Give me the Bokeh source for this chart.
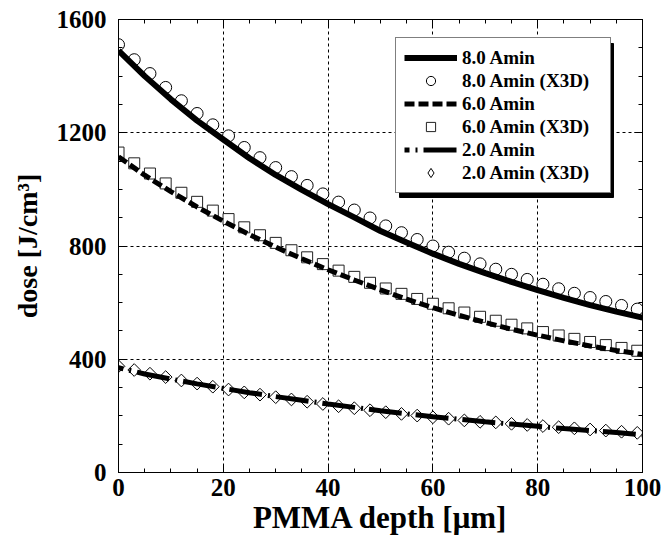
from bokeh.plotting import figure
from bokeh.models import Range1d, LinearAxis, Legend, LegendItem, SingleIntervalTicker, FixedTicker
from bokeh.embed import file_html
from bokeh.resources import INLINE
import math

# ---------------- data ----------------
x_line = [0, 5, 10, 15, 20, 25, 30, 35, 40, 45, 50, 55, 60, 65, 70, 75, 80, 85, 90, 95, 100]
line_8 = [1490, 1400, 1318, 1243, 1176, 1110, 1051, 998, 948, 901, 853, 812, 773, 737, 704, 673, 644, 617, 591, 568, 547]
line_6 = [1115, 1050, 992, 938, 888, 840, 796, 755, 716, 680, 645, 612, 582, 555, 530, 506, 485, 465, 447, 431, 417]
line_2 = [370, 348, 330, 313, 297, 282, 268, 255, 242, 230, 218, 207, 197, 188, 179, 171, 163, 155, 148, 141, 133]

x_pts = [0, 3, 6, 9, 12, 15, 18, 21, 24, 27, 30, 33, 36, 39, 42, 45, 48, 51, 54, 57, 60,
         63, 66, 69, 72, 75, 78, 81, 84, 87, 90, 93, 96, 99]
x3d_8 = [1511, 1458, 1409, 1360, 1313, 1268, 1228, 1189, 1148, 1112, 1077, 1045, 1014, 984, 955, 927, 899, 871, 847, 823, 800,
         778, 757, 737, 718, 700, 682, 665, 649, 633, 618, 604, 590, 577]
x3d_6 = [1130, 1092, 1056, 1021, 988, 956, 925, 895, 866, 838, 811, 785, 760, 736, 713, 691, 670, 650, 631, 613, 596,
         580, 565, 550, 536, 522, 509, 496, 484, 472, 461, 450, 440, 430]
x3d_2 = [375, 362, 349, 337, 325, 314, 303, 293, 283, 275, 266, 258, 250, 242, 234, 227, 220, 213, 207, 201, 195,
         190, 184, 179, 177, 172, 168, 164, 160, 156, 152, 148, 144, 140]

labels = ["8.0 Amin", "8.0 Amin (X3D)", "6.0 Amin", "6.0 Amin (X3D)", "2.0 Amin", "2.0 Amin (X3D)"]

FONT = "Liberation Serif"

# ---------------- layout constants ----------------
W, H = 664, 540
FL, FT, FR, FB = 118, 19, 642, 472   # frame in canvas px
X0, X1, Y0, Y1 = 0, 100, 0, 1600
XMAJ, YMAJ = 20, 400

p = figure(width=W, height=H, output_backend="svg", toolbar_location=None,
           x_range=Range1d(X0, X1), y_range=Range1d(Y0, Y1),
           min_border_left=FL, min_border_right=W - FR,
           min_border_top=FT, min_border_bottom=H - FB)
p.background_fill_color = "white"
p.border_fill_color = "white"
p.outline_line_color = "black"
p.outline_line_width = 1

def style_axis(ax):
    ax.major_tick_in = 8
    ax.major_tick_out = 0
    ax.minor_tick_in = 4
    ax.minor_tick_out = 0
    ax.major_tick_line_color = "black"
    ax.minor_tick_line_color = "black"
    ax.axis_line_color = "black"
    ax.major_label_text_font = FONT
    ax.major_label_text_font_style = "bold"
    ax.major_label_text_font_size = "25px"
    ax.major_label_text_color = "black"
    ax.axis_label_text_font = FONT
    ax.axis_label_text_font_style = "bold"
    ax.axis_label_text_color = "black"

xt = SingleIntervalTicker(interval=XMAJ, num_minor_ticks=4)
yt = SingleIntervalTicker(interval=YMAJ, num_minor_ticks=4)
p.xaxis.ticker = xt
p.yaxis.ticker = yt
p.xgrid.ticker = xt
p.ygrid.ticker = yt
style_axis(p.xaxis[0])
style_axis(p.yaxis[0])
p.xaxis.axis_label = "PMMA depth [μm]"
p.yaxis.axis_label = "dose [J/cm³]"
p.xaxis.axis_label_text_font_size = "31px"
p.yaxis.axis_label_text_font_size = "28px"
p.xaxis.major_label_standoff = 6
p.yaxis.major_label_standoff = 12
p.xaxis.axis_label_standoff = 1
p.yaxis.axis_label_standoff = 11

# mirrored tick marks (no labels) on top and right
def mirror_axis(positions, length, side):
    ax = LinearAxis(ticker=FixedTicker(ticks=[], minor_ticks=positions))
    ax.minor_tick_in = length
    ax.minor_tick_out = 0
    ax.major_tick_in = 0
    ax.major_tick_out = 0
    ax.minor_tick_line_color = "black"
    ax.axis_line_color = "black"
    ax.major_label_standoff = 0
    ax.axis_label_standoff = 0
    p.add_layout(ax, side)

x_major_pos = list(range(X0, X1 + 1, XMAJ))
x_minor_pos = list(range(X0, X1 + 1, XMAJ // 4))
y_major_pos = list(range(Y0, Y1 + 1, YMAJ))
y_minor_pos = list(range(Y0, Y1 + 1, YMAJ // 4))
mirror_axis(x_major_pos, 8, "above")
mirror_axis(x_minor_pos, 4, "above")
mirror_axis(y_major_pos, 8, "right")
mirror_axis(y_minor_pos, 4, "right")

for g in (p.xgrid[0], p.ygrid[0]):
    g.grid_line_color = "black"
    g.grid_line_dash = "3 3"
    g.grid_line_width = 1

# ---------------- legend geometry ----------------
LEG_PAD, ROW_H, GLYPH_W = 8, 23, 53
LEG_W = 214
LEG_H = 2 * LEG_PAD + ROW_H * len(labels)
LEG_X, LEG_Y = 277, 279   # legend box bottom-left, px from frame bottom-left
SH = 4
def px2x(px):
    return X0 + px / (FR - FL) * (X1 - X0)
def px2y(py):
    return Y0 + py / (FB - FT) * (Y1 - Y0)
# drop shadow of the legend box
p.quad(left=[px2x(LEG_X + SH)], right=[px2x(LEG_X + LEG_W + SH)],
       bottom=[px2y(LEG_Y - SH)], top=[px2y(LEG_Y + LEG_H - SH)],
       fill_color="black", line_color="black")

# ---------------- markers ----------------
r_c = p.scatter(x_pts, x3d_8, marker="circle", size=12, fill_color="white",
                line_color="black", line_width=1)
r_s = p.scatter(x_pts, x3d_6, marker="square", size=11, fill_color="white",
                line_color="#222222", line_width=1)
r_d = p.scatter(x_pts, x3d_2, marker="square", size=9, angle=math.pi / 4,
                fill_color="white", line_color="black", line_width=1)
# legend symbol for the diamonds (zero size in the plot itself)
r_d_leg = p.scatter(x_pts, x3d_2, marker="diamond", size=0, fill_color="white",
                    line_color="black", line_width=1)

# ---------------- lines ----------------
r_l8 = p.line(x_line, line_8, line_color="black", line_width=6)
r_l6 = p.line(x_line, line_6, line_color="black", line_width=5, line_dash="10 4")
r_l2 = p.line(x_line, line_2, line_color="black", line_width=5,
              line_dash="33 6 2 6", line_dash_offset=28)

renderers = [r_l8, r_c, r_l6, r_s, r_l2, r_d_leg]
legend = Legend(items=[LegendItem(label=l, renderers=[r]) for l, r in zip(labels, renderers)],
                location=(LEG_X, LEG_Y))
legend.label_text_font = FONT
legend.label_text_font_style = "bold"
legend.label_text_font_size = "19px"
legend.label_text_color = "black"
legend.glyph_width = GLYPH_W
legend.glyph_height = ROW_H
legend.label_height = ROW_H
legend.label_width = LEG_W - 2 * LEG_PAD - GLYPH_W - 5
legend.label_standoff = 5
legend.spacing = 0
legend.padding = LEG_PAD
legend.margin = 0
legend.border_line_color = "black"
legend.border_line_width = 1.5
legend.background_fill_color = "white"
legend.background_fill_alpha = 1.0
p.add_layout(legend)

open("out.html", "w").write(file_html(p, INLINE))
